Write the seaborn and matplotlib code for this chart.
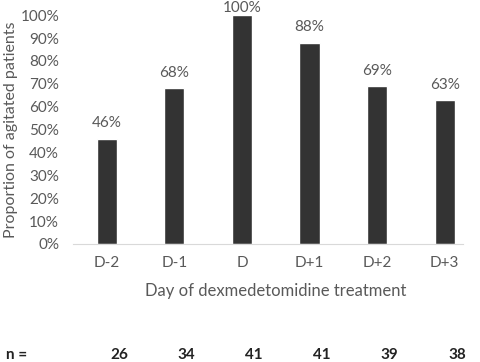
import matplotlib
matplotlib.use("Agg")
import matplotlib.pyplot as plt
import matplotlib.transforms as mtrans
import seaborn as sns
import pandas as pd

days = ["D-2", "D-1", "D", "D+1", "D+2", "D+3"]
proportions = [46, 68, 100, 88, 69, 63]
n_patients = [26, 34, 41, 41, 39, 38]

df = pd.DataFrame({"day": days, "pct": proportions})

sns.set_style("white")
plt.rcParams["font.family"] = ["Lato", "DejaVu Sans"]
txt = "#595959"

fig = plt.figure(figsize=(4.8, 3.62), dpi=100)
ax = fig.add_axes([0.152, 0.326, 0.845, 0.632])
sns.barplot(data=df, x="day", y="pct", color="#333333", width=0.3,
            saturation=1, ax=ax)

# value labels; the top one is squeezed against the figure edge as in the original
for i, v in enumerate(proportions):
    off = 6 if v < 95 else 0
    ax.annotate(f"{v}%", xy=(i, v), xytext=(0, off), textcoords="offset points",
                ha="center", va="bottom", fontsize=11, color=txt,
                annotation_clip=False)

ax.set_ylim(0, 100)
ax.set_xlim(-0.5, 5.5)
ax.spines["bottom"].set_bounds(-0.5, 5.27)
ax.set_yticks(range(0, 101, 10))
ax.set_yticklabels([f"{t}%" for t in range(0, 101, 10)])
ax.tick_params(axis="both", length=0, labelsize=11, labelcolor=txt)
ax.tick_params(axis="x", pad=9)
ax.tick_params(axis="y", pad=10)
for s in ["top", "right", "left"]:
    ax.spines[s].set_visible(False)
ax.spines["bottom"].set_color("#d9d9d9")
ax.set_xlabel("Day of dexmedetomidine treatment", fontsize=12, color=txt, labelpad=9)
ax.set_ylabel("Proportion of agitated patients", fontsize=11.5, color=txt, labelpad=2)

# n row below the axis
trans = mtrans.blended_transform_factory(ax.transData, fig.transFigure)
fig.text(0.012, 0.02, "n =", fontsize=11, fontweight="bold", color="#222222",
         va="center")
for i, n in enumerate(n_patients):
    ax.text(i + 0.18, 0.02, str(n), transform=trans, ha="center", va="center",
            fontsize=11, fontweight="bold", color="#222222")

fig.savefig("out.png", dpi=100)
